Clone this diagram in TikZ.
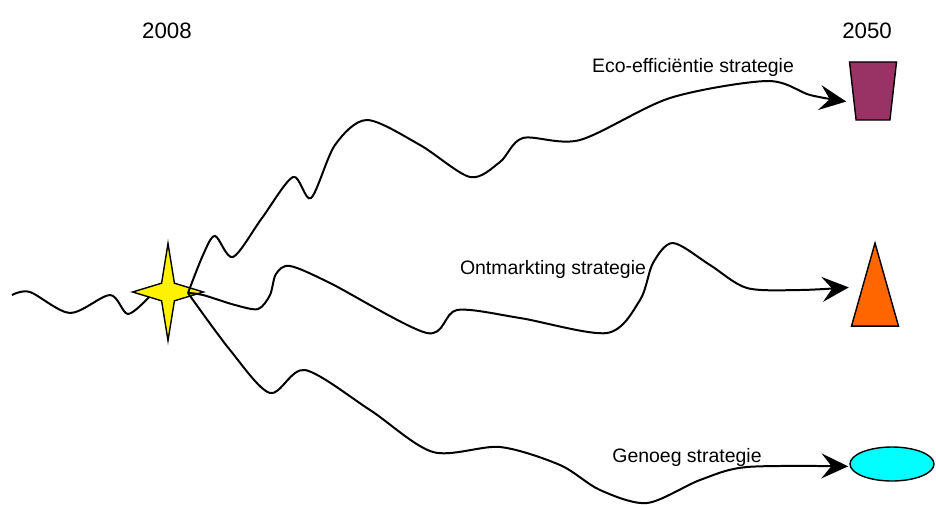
\documentclass[tikz,border=0pt]{standalone}
\usepackage{fontspec}
\setmainfont{Liberation Sans}
\usetikzlibrary{shapes.geometric,arrows.meta}
\definecolor{ecopurple}{RGB}{153,51,102}
\definecolor{ontorange}{RGB}{255,102,0}
\definecolor{gencyan}{RGB}{0,255,255}

\begin{document}
\begin{tikzpicture}[x=0.03cm,y=-0.03cm,
        route/.style={line width=1.7pt},
        tip/.style={-{Stealth[length=8mm,width=7.5mm,inset=3mm]}},
        year/.style={font=\fontsize{19}{22}\selectfont,anchor=base,inner sep=0pt},
        tag/.style={font=\fontsize{16.6}{20}\selectfont,anchor=base,inner sep=0pt},
        goal/.style={draw,line width=1.2pt,inner sep=1pt}]

    \useasboundingbox (0,0) rectangle (936,504);

    \node[year] (start) at (167,38) {2008};
    \node[year] (end) at (867,38) {2050};

    % doelen in 2050
    \node[goal,trapezium,shape border rotate=180,trapezium stretches=true,
          trapezium angle=79,minimum width=1.41cm,minimum height=1.74cm,
          fill=ecopurple] (eco) at (873,91) {};
    \node[goal,isosceles triangle,shape border rotate=90,isosceles triangle stretches=true,
          minimum width=1.41cm,minimum height=2.49cm,
          fill=ontorange] (ont) at (875,308.5) {};
    \node[goal,ellipse,minimum width=2.52cm,minimum height=1.02cm,
          fill=gencyan] (gen) at (892,464) {};

    % verleden
    \draw[route] plot[smooth] coordinates {(12,295) (30,292) (70,313) (110,295) (128,314) (150,296)};

    \node[draw,fill=yellow,line width=1.2pt,star,star points=4,star point ratio=3.9,
          minimum size=2.91cm,inner sep=0pt,xscale=0.73] (now) at (168,292) {};
    \coordinate (fork) at (188,293);

    \draw[route,tip] plot[smooth] coordinates {(fork) (203,255) (215,236) (233,257) (262,218)
        (293,177) (311,198) (335,145) (367,120) (420,145) (470,177) (500,162) (523,138)
        (580,140) (670,98) (767,81) (810,95) ([xshift=-5pt,yshift=-9pt]eco.west)};
    \draw[route,tip] plot[smooth] coordinates {(fork) (203,295) (235,305) (258,309) (270,295)
        (276,274) (290,266) (330,283) (427,333) (457,310) (520,318) (607,333) (640,300)
        (653,263) (673,243) (710,265) (747,288) (800,290) ([xshift=-6pt,yshift=18pt]ont.west)};
    \draw[route,tip] plot[smooth] coordinates {(fork) (230,350) (270,393) (305,370) (370,410)
        (433,452) (500,447) (560,465) (600,490) (647,503) (700,480) (747,467)
        ([xshift=-1pt,yshift=-2pt]gen.west)};

    \node[tag] (ecotag) at (693,72) {Eco-efficiëntie strategie};
    \node[tag] (onttag) at (553,274) {Ontmarkting strategie};
    \node[tag] (gentag) at (687,462) {Genoeg strategie};
\end{tikzpicture}
\end{document}
